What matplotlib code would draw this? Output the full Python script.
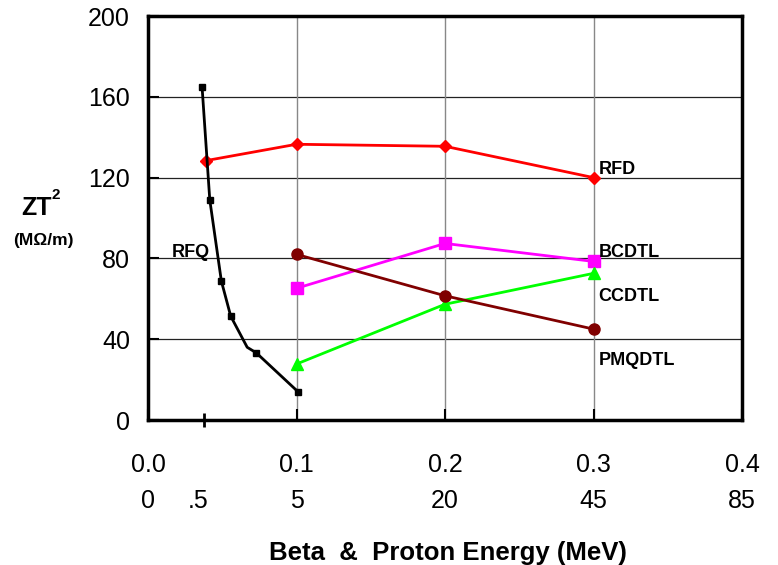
import matplotlib
matplotlib.use('Agg')
import matplotlib.pyplot as plt
import matplotlib.transforms as mtransforms

plt.rcParams['font.family'] = ['Liberation Sans', 'DejaVu Sans']

# RFQ curve (black), the 5th point is a bend with no marker
rfq_beta = [0.0364, 0.0416, 0.0494, 0.0557, 0.0668, 0.073, 0.1013]
rfq_zt2 = [165, 109, 68.8, 51.4, 36, 33.2, 13.8]

rfd_beta = [0.039, 0.1, 0.2, 0.3]
rfd_zt2 = [128.4, 136.5, 135.5, 120]

bcdtl_beta = [0.1, 0.2, 0.3]
bcdtl_zt2 = [65.2, 87.4, 78.5]

ccdtl_beta = [0.1, 0.2, 0.3]
ccdtl_zt2 = [27.7, 57.3, 72.6]

pmq_beta = [0.1, 0.2, 0.3]
pmq_zt2 = [82, 61.5, 45]

beta_ticks = [0.0, 0.1, 0.2, 0.3, 0.4]
beta_labels = ['0.0', '0.1', '0.2', '0.3', '0.4']
energy_pos = [0.0, 0.0335, 0.1, 0.2, 0.3, 0.4]
energy_labels = ['0', '.5', '5', '20', '45', '85']
half_mev_beta = 0.0376

fig = plt.figure(figsize=(7.78, 5.65), dpi=100)
ax = fig.add_axes([148/778, 1-420/565, (742-148)/778, (420-16)/565])

ax.set_xlim(0, 0.4)
ax.set_ylim(0, 200)

for y in [40, 80, 120, 160]:
    ax.axhline(y, color='#222222', lw=0.9, zorder=1)
for x in [0.1, 0.2, 0.3]:
    ax.axvline(x, color='#888888', lw=1.0, zorder=1)

ax.plot(rfq_beta, rfq_zt2, color='black', lw=2, marker='s', ms=5,
        markevery=[0, 1, 2, 3, 5, 6], zorder=4)
ax.plot(rfd_beta, rfd_zt2, color='#ff0000', lw=2, marker='D', ms=6, zorder=3)
ax.plot(rfd_beta[:1], rfd_zt2[:1], color='#ff0000', ls='none', marker='s', ms=5, zorder=3)
ax.plot(bcdtl_beta, bcdtl_zt2, color='#ff00ff', lw=2, marker='s', ms=8, zorder=3)
ax.plot(ccdtl_beta, ccdtl_zt2, color='#00ff00', lw=2, marker='^', ms=9, zorder=3)
ax.plot(pmq_beta, pmq_zt2, color='#800000', lw=2, marker='o', ms=8, zorder=3)

lab = dict(fontsize=13, fontweight='bold', va='center')
ax.text(0.3035, 124, 'RFD', **lab)
ax.text(0.3035, 83, 'BCDTL', **lab)
ax.text(0.3035, 61, 'CCDTL', **lab)
ax.text(0.3035, 29.6, 'PMQDTL', **lab)
ax.text(0.0161, 83, 'RFQ', **lab)

for s in ax.spines.values():
    s.set_linewidth(2.5)

ax.set_yticks([0, 40, 80, 120, 160, 200])
ax.set_yticklabels(['0', '40', '80', '120', '160', '200'], fontsize=18)
ax.tick_params(axis='y', direction='in', length=8, width=1.5, pad=13)

ax.set_xticks(beta_ticks)
ax.set_xticklabels(beta_labels, fontsize=18)
ax.tick_params(axis='x', which='major', direction='in', length=8, width=1.5, pad=24)
ax.set_xticks([half_mev_beta], minor=True)
ax.tick_params(axis='x', which='minor', direction='inout', length=10, width=2)

trans = mtransforms.blended_transform_factory(ax.transData, ax.transAxes)
for xp, t in zip(energy_pos, energy_labels):
    ax.text(xp, -0.2017, t, transform=trans, fontsize=18, ha='center', va='center')

fig.text(448/778, 1-553/565, 'Beta  &  Proton Energy (MeV)', fontsize=18.5,
         fontweight='bold', ha='center', va='center')
fig.text(37/778, 1-208/565, 'ZT', fontsize=18, fontweight='bold',
         ha='center', va='center')
fig.text(55.5/778, 1-195/565, '2', fontsize=11, fontweight='bold',
         ha='center', va='center')
fig.text(43/778, 1-240/565, '(M\u03a9/m)', fontsize=12.5, fontweight='bold',
         ha='center', va='center')

fig.savefig('out.png', dpi=100)
